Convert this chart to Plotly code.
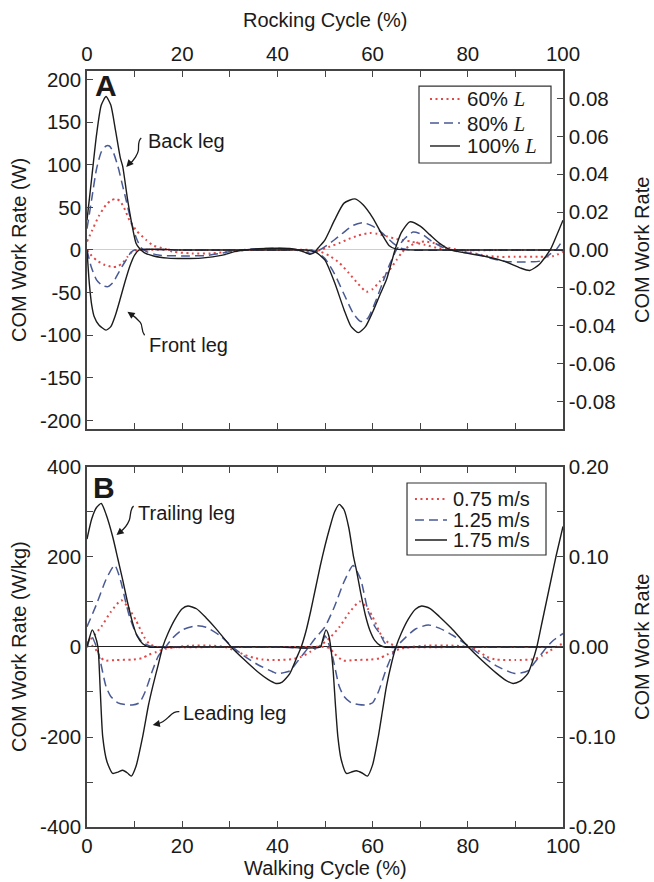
import plotly.graph_objects as go

FONT = "Liberation Sans, Arial, Helvetica, sans-serif"
RED = "#de4a4a"
BLUE = "#4a5a94"
BLACK = "#1c1c1c"

# ---------------- Panel A : rocking, COM work rate (W) ----------------
a_bl100_x = [0, 1, 2, 3, 4, 5, 6, 7, 7.5, 8.5, 9.5, 10.3, 11, 12, 14, 17, 20, 24, 28.5, 31, 33, 36, 40, 43, 45, 46.8, 47.8, 48.5, 50, 52, 54, 56.3, 58, 60, 62, 63.5, 65, 70, 80, 90, 100]
a_bl100_y = [35, 85, 135, 170, 180, 170, 140, 108, 98, 60, 28, 8, 2, -3, -7, -9.5, -10, -9.5, -6, -2, 0, 1.5, 2, 1.5, -1, -5, -3, 2, 12, 35, 55, 60, 53, 38, 18, 5, 1, 0, 0, 0, 0]
a_fl100_x = [0, 0.5, 1, 1.5, 2.5, 4, 5, 6, 7, 8, 9, 10, 11, 20, 30, 40, 46, 47, 48.2, 50, 52, 54, 55.5, 57, 58.5, 60, 61.5, 62.9, 64, 64.7, 66, 67.8, 70, 72, 74, 76, 78, 80, 84, 88, 91, 93, 95, 97.3, 98.5, 100]
a_fl100_y = [0, -40, -65, -78, -88, -94, -90, -76, -57, -37, -19, -6, 0, 0, 0, 0, 0, -1, -3, -12, -38, -70, -90, -97, -90, -73, -53, -35, -14, 0, 20, 33, 28, 18, 8, 1, -2, -4, -8, -14, -21, -24, -17, 0, 15, 35]

a_bl80_x = [0, 1, 2, 3, 4, 4.7, 5.5, 6.5, 7.5, 8.2, 9.2, 10.3, 11.3, 12.5, 15, 20, 25, 28, 31, 34, 40, 43, 45, 47, 48.5, 50, 52, 54, 56, 58, 60, 62, 64.3, 66, 68, 80, 100]
a_bl80_y = [25, 60, 95, 115, 122, 122, 115, 98, 75, 59, 35, 15, 3, -2, -6, -7, -6.5, -4, -1, 1, 2, 1, -1, -4, -1, 4, 12, 21, 29, 32, 28, 20, 8, 2, 0, 0, 0]
a_fl80_x = [0, 0.9, 2, 3.3, 4.4, 5.5, 6.5, 7.3, 8.2, 9.2, 10, 20, 30, 40, 47, 48.2, 50, 52, 54, 56, 57.5, 59, 60.5, 62, 63.5, 65, 66.5, 68.5, 70.5, 72.5, 75.5, 78, 82, 85, 88, 92, 95.2, 97, 98.5, 100]
a_fl80_y = [0, -20, -35, -42, -43, -38, -28, -20, -12, -3, 0, 0, 0, 0, 0, -2, -10, -28, -52, -75, -84, -80, -62, -40, -18, 0, 12, 21, 18, 10, 1, -2, -5, -10, -13.5, -14, -13, -6, 0, 12]

a_bl60_x = [0, 1, 2.5, 4, 5, 6.1, 7, 8, 8.9, 10.5, 12.4, 14, 16, 18, 22, 26, 30, 34, 40, 44, 46, 47.5, 49, 51, 53, 55, 57, 59.4, 61, 63, 65, 68, 71, 74, 77, 90, 100]
a_bl60_y = [10, 22, 40, 53, 58, 60, 57, 47, 35, 22, 12, 5, 2, -2, -4, -4, -2, 0, 1, 0, -2, -2, 0, 4, 8, 13, 17, 20, 19, 16, 13, 10, 6, 2, 0, 0, 0]
a_fl60_x = [0, 1, 2, 3.5, 5.4, 6.5, 7.5, 8.5, 9.5, 10.5, 20, 30, 40, 47, 49, 51, 53, 55, 57, 58.7, 60, 61.5, 63.5, 65, 66, 67, 69, 71, 73, 75, 78, 80, 83, 86, 90, 95, 98, 100]
a_fl60_y = [0, -7, -12, -17, -20, -19, -15, -8, -2, 0, 0, 0, 0, 0, -2, -7, -15, -27, -40, -49, -46, -37, -24, -12, -4, 2, 8, 10, 8, 4, 0, -2, -6, -8, -8, -8, -7, -2]

# ---------------- Panel B : walking, COM work rate (W/kg) ----------------
b_l1_175_x = [0, 0.5, 1.1, 1.7, 2.3, 2.8, 3.3, 4.2, 5.4, 6.5, 7.5, 8.5, 9.3, 10.3, 11.7, 12.9, 13.8, 15, 15.9, 17, 18.5, 20, 21.2, 23, 25, 27, 30.3, 33, 36.3, 38, 39.7, 41, 42.6, 44, 45, 46, 47, 48, 49, 50, 51, 52, 53, 54, 55, 56, 56.6, 57.5, 58.5, 59.4, 60.5, 61.5, 62.5, 70, 80, 90, 100]
b_l1_175_y = [0, 20, 38, 25, 0, -100, -199, -255, -281, -278, -274, -280, -287, -265, -199, -130, -88, -38, 0, 30, 62, 85, 91, 85, 65, 42, 0, -28, -59, -72, -81, -78, -59, -25, 0, 35, 80, 130, 180, 225, 265, 300, 317, 305, 265, 200, 171, 120, 70, 38, 14, 4, 0, 0, 0, 0, 0]
b_l2_175_x = [0, 1, 2, 3, 4, 5.4, 6.5, 7.5, 8.5, 9.6, 10.5, 11.7, 13, 20, 30, 40, 49, 49.5, 50.2, 50.8, 51.2, 51.7, 52.2, 52.7, 53.4, 54.5, 55.5, 56.6, 57.8, 58.9, 60, 61.2, 62.1, 62.9, 64, 64.9, 66, 67.5, 69, 70.3, 72, 74, 76.5, 80.1, 83, 86, 88, 89.5, 91, 92.6, 93.5, 94.5, 95.5, 96.5, 97.5, 98.5, 100]
b_l2_175_y = [240, 285, 310, 319, 295, 245, 195, 149, 100, 53, 25, 7, 0, 0, 0, 0, 0, 15, 38, 25, 0, -51, -130, -199, -250, -281, -278, -275, -280, -287, -262, -199, -140, -88, -35, 0, 30, 62, 84, 91, 86, 68, 42, 0, -30, -58, -74, -81, -76, -59, -35, 0, 50, 100, 150, 200, 268]

b_l1_125_x = [0, 0.9, 2, 2.6, 4, 5, 6.5, 8, 9.5, 11, 12.2, 13.8, 15, 16.5, 18, 20, 22.9, 25, 28, 30.6, 33, 36, 39, 40, 42.6, 44, 45.5, 46.6, 48, 50, 52, 54, 55.9, 57.5, 59, 60.5, 61.5, 62.5, 63.6, 70, 80, 90, 100]
b_l1_125_y = [0, 25, 0, -22, -88, -110, -124, -128, -129, -124, -100, -51, -20, 0, 20, 38, 47, 44, 25, 0, -20, -40, -55, -59, -53, -35, -15, 0, 20, 45, 90, 145, 181, 150, 82, 45, 30, 10, 0, 0, 0, 0, 0]
b_l2_125_x = [0, 2, 4, 5.8, 7, 8.2, 9, 10.3, 11.5, 13, 14.5, 20, 30, 40, 49, 50, 51, 51.6, 53, 54, 55.5, 57, 58.5, 60, 61.2, 62.8, 64, 65, 67, 69, 71.7, 74, 77, 80.4, 83, 86, 89.9, 92.6, 94, 95.5, 96.6, 98, 100]
b_l2_125_y = [45, 95, 150, 182, 150, 97, 65, 30, 12, 3, 0, 0, 0, 0, 0, 25, 0, -22, -88, -110, -124, -128, -129, -124, -100, -51, -20, 0, 22, 40, 49, 42, 25, 0, -20, -42, -59, -53, -35, -15, 0, 15, 30]

b_l1_075_x = [0, 0.8, 1.8, 2.8, 3.7, 6, 9.4, 11.5, 13, 14.6, 16.5, 19, 22, 26, 29, 31, 33, 35, 37, 40, 43, 45, 47, 49, 51, 53, 55, 57.3, 59, 60, 62, 63.5, 65, 66, 80, 100]
b_l1_075_y = [0, 5, -5, -22, -30, -29, -28, -25, -17, -11, -4, 0, 3, 3, 0, -8, -17, -24, -28, -29, -27, -22, -10, 3, 20, 44, 75, 101, 85, 67, 23, 8, 2, 0, 0, 0]
b_l2_075_x = [0, 1, 3, 5, 7.2, 8.5, 10.3, 12, 13, 14, 15, 30, 45, 50, 51, 52, 53.8, 56, 59.4, 61.5, 63, 64.5, 65.7, 68, 71, 77, 80, 82, 84, 86, 90, 94, 95.5, 97, 99, 100]
b_l2_075_y = [8, 20, 45, 78, 104, 90, 59, 22, 8, 2, 0, 0, 0, 0, -3, -15, -30, -29, -28, -25, -17, -10, -4, 0, 3, 3, 0, -7, -22, -28, -29, -27, -20, -10, 3, 8]

# ---------------- tick labels ----------------
x_tickvals = [0, 10, 20, 30, 40, 50, 60, 70, 80, 90, 100]
x_ticktext = ["0", "", "20", "", "40", "", "60", "", "80", "", "100"]
a_left_vals = [-200, -150, -100, -50, 0, 50, 100, 150, 200]
a_left_text = ["-200", "-150", "-100", "-50", "0", "50", "100", "150", "200"]
a_right_vals = [-0.08, -0.06, -0.04, -0.02, 0.0, 0.02, 0.04, 0.06, 0.08]
a_right_text = ["-0.08", "-0.06", "-0.04", "-0.02", "0.00", "0.02", "0.04", "0.06", "0.08"]
b_left_vals = [-400, -300, -200, -100, 0, 100, 200, 300, 400]
b_left_text = ["-400", "", "-200", "", "0", "", "200", "", "400"]
b_right_vals = [-0.20, -0.15, -0.10, -0.05, 0.0, 0.05, 0.10, 0.15, 0.20]
b_right_text = ["-0.20", "", "-0.10", "", "0.00", "", "0.10", "", "0.20"]

LSPAN = '<span style="font-family:Liberation Serif, Times New Roman, serif;font-style:italic">L</span>'
a_names = ["60% " + LSPAN, "80% " + LSPAN, "100% " + LSPAN]
b_names = ["0.75 m/s", "1.25 m/s", "1.75 m/s"]

styles = [
    dict(color=RED, dash="2px,3.5px", width=2.0),
    dict(color=BLUE, dash="9px,5px", width=1.5),
    dict(color=BLACK, dash="solid", width=1.4),
]

fig = go.Figure()

a_series = [
    (a_bl60_x, a_bl60_y, a_fl60_x, a_fl60_y),
    (a_bl80_x, a_bl80_y, a_fl80_x, a_fl80_y),
    (a_bl100_x, a_bl100_y, a_fl100_x, a_fl100_y),
]
b_series = [
    (b_l1_075_x, b_l1_075_y, b_l2_075_x, b_l2_075_y),
    (b_l1_125_x, b_l1_125_y, b_l2_125_x, b_l2_125_y),
    (b_l1_175_x, b_l1_175_y, b_l2_175_x, b_l2_175_y),
]

for i, (x1, y1, x2, y2) in enumerate(a_series):
    st = styles[i]
    for xx, yy in [(x1, y1), (x2, y2)]:
        fig.add_trace(go.Scatter(
            x=xx, y=yy, xaxis="x", yaxis="y", mode="lines",
            line=dict(color=st["color"], dash=st["dash"], width=st["width"], shape="spline", smoothing=0.6),
            name=a_names[i], showlegend=False, hoverinfo="skip"))

for i, (x1, y1, x2, y2) in enumerate(b_series):
    st = styles[i]
    for xx, yy in [(x1, y1), (x2, y2)]:
        fig.add_trace(go.Scatter(
            x=xx, y=yy, xaxis="x2", yaxis="y3", mode="lines",
            line=dict(color=st["color"], dash=st["dash"], width=st["width"], shape="spline", smoothing=0.6),
            name=b_names[i], showlegend=False, hoverinfo="skip"))

# invisible traces so that the right-hand axes are drawn
fig.add_trace(go.Scatter(x=[None], y=[None], xaxis="x", yaxis="y2", showlegend=False))
fig.add_trace(go.Scatter(x=[None], y=[None], xaxis="x2", yaxis="y4", showlegend=False))

TICKSIZE = 20.5
AX = dict(showline=True, linecolor="#444444", linewidth=1.5, ticks="inside", ticklen=6,
          tickcolor="#444444", tickwidth=1.2, showgrid=False,
          tickfont=dict(family=FONT, size=TICKSIZE, color="#1a1a1a"))

A_DOM = [0.5265, 1.0]
B_DOM = [0.0, 0.4762]

fig.update_layout(
    width=654, height=882,
    margin=dict(l=87, r=91, t=71, b=55),
    paper_bgcolor="white", plot_bgcolor="white",
    font=dict(family=FONT, size=20, color="#1a1a1a"),
    showlegend=False,
    xaxis=dict(AX, domain=[0, 1], anchor="y", side="top", range=[0, 100],
               tickmode="array", tickvals=x_tickvals, ticktext=x_ticktext, mirror="ticks",
               zeroline=False),
    yaxis=dict(AX, domain=A_DOM, anchor="x", range=[-210, 210],
               tickmode="array", tickvals=a_left_vals, ticktext=a_left_text,
               zeroline=True, zerolinecolor="#cfcfcf", zerolinewidth=1),
    yaxis2=dict(AX, overlaying="y", side="right", anchor="x", range=[-0.0946, 0.0946],
                tickmode="array", tickvals=a_right_vals, ticktext=a_right_text,
                zeroline=False),
    xaxis2=dict(AX, domain=[0, 1], anchor="y3", side="bottom", range=[0, 100],
                tickmode="array", tickvals=x_tickvals, ticktext=x_ticktext, mirror="ticks",
                zeroline=False),
    yaxis3=dict(AX, domain=B_DOM, anchor="x2", range=[-400, 400],
                tickmode="array", tickvals=b_left_vals, ticktext=b_left_text,
                zeroline=True, zerolinecolor="#222222", zerolinewidth=1.3),
    yaxis4=dict(AX, overlaying="y3", side="right", anchor="x2", range=[-0.20, 0.20],
                tickmode="array", tickvals=b_right_vals, ticktext=b_right_text,
                zeroline=False),
)

ann = []
shapes = []
TF = dict(family=FONT, size=20, color="#1a1a1a")
# axis titles
ann.append(dict(text="Rocking Cycle (%)", xref="x domain", yref="y domain", x=0.5, y=1,
                yshift=51, xanchor="center", yanchor="middle", showarrow=False, font=TF))
ann.append(dict(text="Walking Cycle (%)", xref="x domain", yref="y3 domain", x=0.5, y=0,
                yshift=-41, xanchor="center", yanchor="middle", showarrow=False, font=TF))
for yr, t in [("y domain", "COM Work Rate (W)"), ("y3 domain", "COM Work Rate (W/kg)")]:
    ann.append(dict(text=t, xref="x domain", yref=yr, x=0, y=0.5, xshift=-68, textangle=-90,
                    xanchor="center", yanchor="middle", showarrow=False, font=TF))
    ann.append(dict(text="COM Work Rate", xref="x domain", yref=yr, x=1, y=0.5, xshift=79,
                    textangle=-90, xanchor="center", yanchor="middle", showarrow=False, font=TF))

ann.append(dict(text="<b>A</b>", xref="x domain", yref="y domain", x=0.012, y=1.012,
                xanchor="left", yanchor="top", showarrow=False, font=dict(family=FONT, size=30)))
ann.append(dict(text="<b>B</b>", xref="x domain", yref="y3 domain", x=0.009, y=0.995,
                xanchor="left", yanchor="top", showarrow=False, font=dict(family=FONT, size=30)))
labels = [
    ("Back leg", "x", "y", 12.4, 128),
    ("Front leg", "x", "y", 12.6, -112),
    ("Trailing leg", "x2", "y3", 10.3, 298),
    ("Leading leg", "x2", "y3", 19.8, -147),
]
for t, xr, yr, xv, yv in labels:
    ann.append(dict(text=t, xref=xr, yref=yr, x=xv, y=yv, xanchor="left", yanchor="middle",
                    showarrow=False, font=TF))

# curly leader lines with arrow heads
squiggles = [
    ("x", "y", "M 11.4,131.4 C 10.6,128 10.9,121 10.8,117 S 9.9,105 8.9,101", (8.25, 97.5), (8.9, 101.5)),
    ("x", "y", "M 12.1,-100 C 11.3,-95 11.8,-89 11.2,-85 S 10.0,-78 9.2,-75", (8.5, -72.5), (9.2, -75.2)),
    ("x2", "y3", "M 9.8,313 C 9.0,308 9.2,290 8.9,282 S 7.8,262 7.0,256", (6.2, 249), (7.0, 256)),
    ("x2", "y3", "M 19.4,-143.8 C 18.3,-142 17.7,-150 17.2,-155 S 16.0,-168 14.8,-171", (13.8, -173.3), (14.8, -171.2)),
]
for xr, yr, p, tip, tail in squiggles:
    shapes.append(dict(type="path", xref=xr, yref=yr, path=p, line=dict(color="#1a1a1a", width=1.3)))
    ann.append(dict(text="", xref=xr, yref=yr, x=tip[0], y=tip[1], axref=xr, ayref=yr,
                    ax=tail[0], ay=tail[1], showarrow=True, arrowhead=2, arrowsize=1.1,
                    arrowwidth=1.3, arrowcolor="#1a1a1a"))

# legends (box, line samples, labels) placed in axis-domain fractions
legend_specs = [
    ("x domain", "y domain", [0.6975, 0.9748, 0.743, 0.958], [0.7206, 0.7836], 0.794,
     [0.9218, 0.8547, 0.7905], a_names, 20.5),
    ("x domain", "y3 domain", [0.6723, 0.9643, 0.7556, 0.9556], [0.689, 0.7563], 0.7647,
     [0.9111, 0.8528, 0.7972], b_names, 20),
]
for xr, yr, box, smp, tx, rows, names, fs in legend_specs:
    shapes.append(dict(type="rect", xref=xr, yref=yr, x0=box[0], x1=box[1], y0=box[2], y1=box[3],
                       line=dict(color="#333333", width=1.2), fillcolor="white", layer="above"))
    for j, ry in enumerate(rows):
        st = styles[j]
        shapes.append(dict(type="line", xref=xr, yref=yr, x0=smp[0], x1=smp[1], y0=ry, y1=ry,
                           line=dict(color=st["color"], dash=st["dash"], width=st["width"]), layer="above"))
        ann.append(dict(text=names[j], xref=xr, yref=yr, x=tx, y=ry, xanchor="left", yanchor="middle",
                        showarrow=False, font=dict(family=FONT, size=fs, color="#1a1a1a")))

fig.update_layout(annotations=ann, shapes=shapes)
fig.write_html("out.html", config={"displayModeBar": False},
               post_script="document.body.style.margin='0px';")
